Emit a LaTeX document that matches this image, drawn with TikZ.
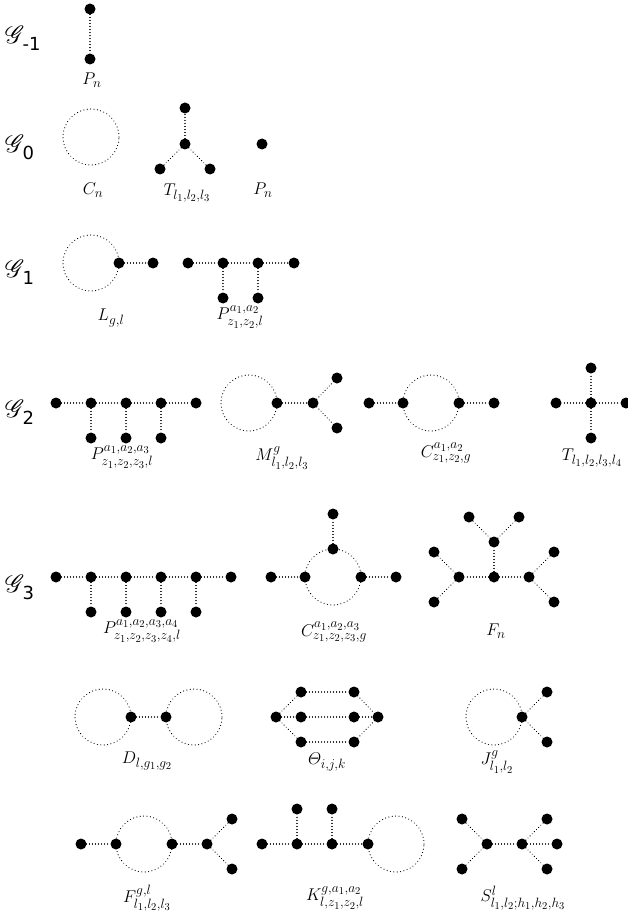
\RequirePackage{fix-cm}
\documentclass[tikz,border=0pt]{standalone}
\usepackage{amsmath}
\usepackage{mathrsfs}
\usepackage{fontspec}
\usepackage{tikz}
\usetikzlibrary{positioning}
\newfontfamily\grpsub{DejaVu Sans}
\DeclareMathSizes{17}{17}{13.5}{10.5}
\tikzset{
    every picture/.style={line cap=round,line join=round},
    vtx/.style={circle,fill=black,inner sep=0pt,minimum size=11pt,outer sep=0pt},
    dotline/.style={line width=1.2pt,dash pattern=on 0.01pt off 3pt},
    cyc/.style={circle,draw,dotline,dash pattern=on 0.01pt off 3.4pt,minimum size=56pt,inner sep=0pt,outer sep=0pt},
    famlabel/.style={inner sep=0pt,font=\fontsize{17}{20}\selectfont},
    grplabel/.style={inner sep=0pt,anchor=west,font=\fontsize{26}{30}\selectfont}
}
\newcommand{\grp}[1]{$\mathscr{G}$\kern-2pt\raisebox{-7pt}{\fontsize{18}{20}\grpsub #1}}

\begin{document}
\begin{tikzpicture}[x=1pt,y=-1pt]
    \useasboundingbox (0,0) rectangle (628,917);

    % row labels
    \node[grplabel] (gm1) at (5,38) {\grp{-1}};
    \node[grplabel] (g0) at (5,147) {\grp{0}};
    \node[grplabel] (g1) at (5,272) {\grp{1}};
    \node[grplabel] (g2) at (5,412) {\grp{2}};
    \node[grplabel] (g3) at (5,587) {\grp{3}};

    % G_{-1}
    \node[vtx] (pna) at (90,9) {};
    \node[vtx] (pnb) at (90,59) {};
    \draw[dotline] (pna)--(pnb);
    \node[famlabel] at (92,80) {$P_n$};

    % G_0
    \node[cyc] (cn) at (91,137) {};
    \node[famlabel] at (93,190) {$C_n$};
    \node[vtx] (tc) at (185,144) {};
    \node[vtx] (tt) at (185,108) {};
    \node[vtx] (tl) at (160,169) {};
    \node[vtx] (tr) at (210,169) {};
    \draw[dotline] (tc)--(tt);
    \draw[dotline] (tc)--(tl);
    \draw[dotline] (tc)--(tr);
    \node[famlabel] at (187,193) {$T_{l_1,l_2,l_3}$};
    \node[vtx] (pnc) at (262,144) {};
    \node[famlabel] at (263,190) {$P_n$};

    % G_1
    \node[cyc] (lg) at (91,263) {};
    \node[vtx] (lga) at (lg.east) {};
    \node[vtx] (lgb) at (153,263) {};
    \draw[dotline] (lga)--(lgb);
    \node[famlabel] at (111,318) {$L_{g,l}$};
    \node[vtx] (p2a) at (188,263) {};
    \node[vtx] (p2b) at (223,263) {};
    \node[vtx] (p2c) at (258,263) {};
    \node[vtx] (p2d) at (294,263) {};
    \node[vtx] (p2e) at (223,298) {};
    \node[vtx] (p2f) at (258,298) {};
    \draw[dotline] (p2a)--(p2b);
    \draw[dotline] (p2b)--(p2c);
    \draw[dotline] (p2c)--(p2d);
    \draw[dotline] (p2b)--(p2e);
    \draw[dotline] (p2c)--(p2f);
    \node[famlabel] at (240,317) {$P^{a_1,a_2}_{z_1,z_2,l}$};

    % G_2
    \node[vtx] (p3a) at (56,403) {};
    \node[vtx] (p3b) at (91,403) {};
    \node[vtx] (p3c) at (126,403) {};
    \node[vtx] (p3d) at (161,403) {};
    \node[vtx] (p3e) at (196,403) {};
    \node[vtx] (p3f) at (91,438) {};
    \node[vtx] (p3g) at (126,438) {};
    \node[vtx] (p3h) at (161,438) {};
    \draw[dotline] (p3a)--(p3b);
    \draw[dotline] (p3b)--(p3c);
    \draw[dotline] (p3c)--(p3d);
    \draw[dotline] (p3d)--(p3e);
    \draw[dotline] (p3b)--(p3f);
    \draw[dotline] (p3c)--(p3g);
    \draw[dotline] (p3d)--(p3h);
    \node[famlabel] at (122,457) {$P^{a_1,a_2,a_3}_{z_1,z_2,z_3,l}$};

    \node[cyc] (mg) at (249,403) {};
    \node[vtx] (mga) at (mg.east) {};
    \node[vtx] (mgb) at (313,403) {};
    \node[vtx] (mgc) at (337,378) {};
    \node[vtx] (mgd) at (337,428) {};
    \draw[dotline] (mga)--(mgb);
    \draw[dotline] (mgb)--(mgc);
    \draw[dotline] (mgb)--(mgd);
    \node[famlabel] at (282,458) {$M^{g}_{l_1,l_2,l_3}$};

    \node[cyc] (c2) at (431,403) {};
    \node[vtx] (c2a) at (369,403) {};
    \node[vtx] (c2b) at (c2.west) {};
    \node[vtx] (c2c) at (c2.east) {};
    \node[vtx] (c2d) at (494,403) {};
    \draw[dotline] (c2a)--(c2b);
    \draw[dotline] (c2c)--(c2d);
    \node[famlabel] at (446,453) {$C^{a_1,a_2}_{z_1,z_2,g}$};

    \node[vtx] (t4c) at (591,403) {};
    \node[vtx] (t4l) at (556,403) {};
    \node[vtx] (t4r) at (626,403) {};
    \node[vtx] (t4t) at (591,368) {};
    \node[vtx] (t4b) at (591,438) {};
    \draw[dotline] (t4c)--(t4l);
    \draw[dotline] (t4c)--(t4r);
    \draw[dotline] (t4c)--(t4t);
    \draw[dotline] (t4c)--(t4b);
    \node[famlabel] at (592,458) {$T_{l_1,l_2,l_3,l_4}$};

    % G_3
    \node[vtx] (p4a) at (56,577) {};
    \node[vtx] (p4b) at (91,577) {};
    \node[vtx] (p4c) at (126,577) {};
    \node[vtx] (p4d) at (161,577) {};
    \node[vtx] (p4e) at (196,577) {};
    \node[vtx] (p4f) at (231,577) {};
    \node[vtx] (p4g) at (91,612) {};
    \node[vtx] (p4h) at (126,612) {};
    \node[vtx] (p4i) at (161,612) {};
    \node[vtx] (p4j) at (196,612) {};
    \draw[dotline] (p4a)--(p4b);
    \draw[dotline] (p4b)--(p4c);
    \draw[dotline] (p4c)--(p4d);
    \draw[dotline] (p4d)--(p4e);
    \draw[dotline] (p4e)--(p4f);
    \draw[dotline] (p4b)--(p4g);
    \draw[dotline] (p4c)--(p4h);
    \draw[dotline] (p4d)--(p4i);
    \draw[dotline] (p4e)--(p4j);
    \node[famlabel] at (142,631) {$P^{a_1,a_2,a_3,a_4}_{z_1,z_2,z_3,z_4,l}$};

    \node[cyc] (c3) at (333,577) {};
    \node[vtx] (c3a) at (271,577) {};
    \node[vtx] (c3b) at (c3.west) {};
    \node[vtx] (c3c) at (c3.north) {};
    \node[vtx] (c3d) at (c3.east) {};
    \node[vtx] (c3e) at (333,514) {};
    \node[vtx] (c3f) at (396,577) {};
    \draw[dotline] (c3a)--(c3b);
    \draw[dotline] (c3c)--(c3e);
    \draw[dotline] (c3d)--(c3f);
    \node[famlabel] at (334,632) {$C^{a_1,a_2,a_3}_{z_1,z_2,z_3,g}$};

    \node[vtx] (fnc) at (494,577) {};
    \node[vtx] (fnl) at (459,577) {};
    \node[vtx] (fnr) at (529,577) {};
    \node[vtx] (fnt) at (494,542) {};
    \node[vtx] (fnta) at (469,517) {};
    \node[vtx] (fntb) at (519,517) {};
    \node[vtx] (fnla) at (434,552) {};
    \node[vtx] (fnlb) at (434,602) {};
    \node[vtx] (fnra) at (554,552) {};
    \node[vtx] (fnrb) at (554,602) {};
    \draw[dotline] (fnc)--(fnl);
    \draw[dotline] (fnc)--(fnr);
    \draw[dotline] (fnc)--(fnt);
    \draw[dotline] (fnt)--(fnta);
    \draw[dotline] (fnt)--(fntb);
    \draw[dotline] (fnl)--(fnla);
    \draw[dotline] (fnl)--(fnlb);
    \draw[dotline] (fnr)--(fnra);
    \draw[dotline] (fnr)--(fnrb);
    \node[famlabel] at (496,631) {$F_n$};

    % fourth row
    \node[cyc] (da) at (103,717) {};
    \node[cyc] (db) at (194,717) {};
    \node[vtx] (dav) at (da.east) {};
    \node[vtx] (dbv) at (db.west) {};
    \draw[dotline] (dav)--(dbv);
    \node[famlabel] at (147,761) {$D_{l,g_1,g_2}$};

    \node[vtx] (thl) at (276,717) {};
    \node[vtx] (thr) at (378,717) {};
    \node[vtx] (thua) at (301,692) {};
    \node[vtx] (thub) at (354,692) {};
    \node[vtx] (thma) at (301,717) {};
    \node[vtx] (thmb) at (354,717) {};
    \node[vtx] (thda) at (301,742) {};
    \node[vtx] (thdb) at (354,742) {};
    \draw[dotline] (thl)--(thua);
    \draw[dotline] (thl)--(thma);
    \draw[dotline] (thl)--(thda);
    \draw[dotline] (thua)--(thub);
    \draw[dotline] (thma)--(thmb);
    \draw[dotline] (thda)--(thdb);
    \draw[dotline] (thub)--(thr);
    \draw[dotline] (thmb)--(thr);
    \draw[dotline] (thdb)--(thr);
    \node[famlabel] at (327,762) {$\varTheta_{i,j,k}$};

    \node[cyc] (jg) at (494,717) {};
    \node[vtx] (jga) at (jg.east) {};
    \node[vtx] (jgb) at (547,692) {};
    \node[vtx] (jgc) at (547,742) {};
    \draw[dotline] (jga)--(jgb);
    \draw[dotline] (jga)--(jgc);
    \node[famlabel] at (497,762) {$J^{g}_{l_1,l_2}$};

    % fifth row
    \node[cyc] (fg) at (144,844) {};
    \node[vtx] (fga) at (81,844) {};
    \node[vtx] (fgb) at (fg.west) {};
    \node[vtx] (fgc) at (fg.east) {};
    \node[vtx] (fgd) at (207,844) {};
    \node[vtx] (fge) at (232,819) {};
    \node[vtx] (fgf) at (232,869) {};
    \draw[dotline] (fga)--(fgb);
    \draw[dotline] (fgc)--(fgd);
    \draw[dotline] (fgd)--(fge);
    \draw[dotline] (fgd)--(fgf);
    \node[famlabel] at (147,898) {$F^{g,l}_{l_1,l_2,l_3}$};

    \node[cyc] (kg) at (396,844) {};
    \node[vtx] (kga) at (262,844) {};
    \node[vtx] (kgb) at (297,844) {};
    \node[vtx] (kgc) at (332,844) {};
    \node[vtx] (kgd) at (kg.west) {};
    \node[vtx] (kge) at (297,809) {};
    \node[vtx] (kgf) at (332,809) {};
    \draw[dotline] (kga)--(kgb);
    \draw[dotline] (kgb)--(kgc);
    \draw[dotline] (kgc)--(kgd);
    \draw[dotline] (kgb)--(kge);
    \draw[dotline] (kgc)--(kgf);
    \node[famlabel] at (335,898) {$K^{g,a_1,a_2}_{l,z_1,z_2,l}$};

    \node[vtx] (sa) at (487,844) {};
    \node[vtx] (sb) at (522,844) {};
    \node[vtx] (sla) at (462,819) {};
    \node[vtx] (slb) at (462,869) {};
    \node[vtx] (sra) at (547,819) {};
    \node[vtx] (srb) at (557,844) {};
    \node[vtx] (src) at (547,869) {};
    \draw[dotline] (sa)--(sb);
    \draw[dotline] (sa)--(sla);
    \draw[dotline] (sa)--(slb);
    \draw[dotline] (sb)--(sra);
    \draw[dotline] (sb)--(srb);
    \draw[dotline] (sb)--(src);
    \node[famlabel] at (523,898) {$S^{l}_{l_1,l_2;h_1,h_2,h_3}$};
\end{tikzpicture}
\end{document}
